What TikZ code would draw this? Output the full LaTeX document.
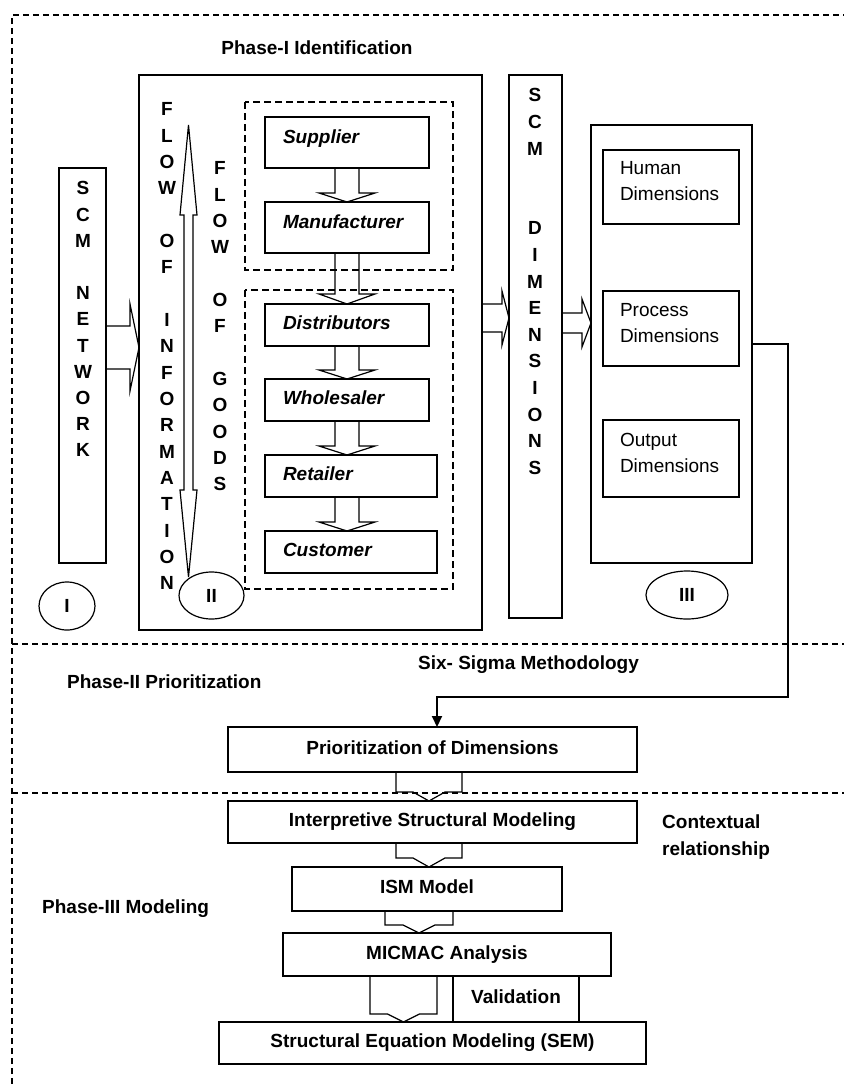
\documentclass[tikz,border=0pt]{standalone}
\usepackage{fontspec}
\setmainfont{Liberation Sans}
\usepackage{tikz}
\usetikzlibrary{calc,positioning,shapes.geometric,arrows.meta}

\newcommand{\figfont}{\fontsize{19}{26.4}\selectfont}

% block arrow down: from #1.south to #2.north at x=#3
% #4 half shaft, #5 half head, #6 head length
\newcommand{\BlockDown}[6]{%
  \draw [block] ($(#1.south -| #3,0) + (-#4,0)$)
    -- ($(#2.north -| #3,0) + (-#4,-#6)$)
    -- ($(#2.north -| #3,0) + (-#5,-#6)$)
    -- (#2.north -| #3,0)
    -- ($(#2.north -| #3,0) + (#5,-#6)$)
    -- ($(#2.north -| #3,0) + (#4,-#6)$)
    -- ($(#1.south -| #3,0) + (#4,0)$);}

% block arrow right: from #1.east to #2.west at y=#3
\newcommand{\BlockRight}[6]{%
  \draw [block] ($(#1.east |- 0,#3) + (0,-#4)$)
    -- ($(#2.west |- 0,#3) + (-#6,-#4)$)
    -- ($(#2.west |- 0,#3) + (-#6,-#5)$)
    -- (#2.west |- 0,#3)
    -- ($(#2.west |- 0,#3) + (-#6,#5)$)
    -- ($(#2.west |- 0,#3) + (-#6,#4)$)
    -- ($(#1.east |- 0,#3) + (0,#4)$);}

\begin{document}
\begin{tikzpicture}
  [x=1pt, y=-1pt,
   box/.style={draw, line width=1.3pt, inner sep=0pt, outer sep=0pt},
   member/.style={box, font=\figfont\bfseries\itshape, align=left, inner xsep=18pt,
                  text height=14pt, text depth=5pt, minimum height=42pt},
   dimension/.style={box, font=\figfont, align=left, inner xsep=17pt, text width=102pt,
                     text depth=38pt},
   stagebox/.style={box, font=\figfont\bfseries, text height=14pt, text depth=5pt},
   letter/.style={font=\figfont\bfseries, inner sep=0pt, text height=13.6pt, text depth=0pt},
   heading/.style={letter, anchor=west},
   tag/.style={draw, ellipse, line width=1.2pt, fill=white, inner sep=0pt,
               font=\figfont\bfseries, text height=13.6pt, text depth=0pt},
   group/.style={draw, line width=1.1pt, dash pattern=on 7pt off 4pt},
   phase line/.style={line width=1.1pt, dash pattern=on 6pt off 4pt},
   block/.style={line width=1.2pt},
   link/.style={line width=2pt, -{Triangle[length=11pt, width=10pt]}}]

  \useasboundingbox (0,0) rectangle (844,1084);

  % phase borders
  \draw [phase line] (12,1084) -- (12,15) -- (844,15);
  \draw [phase line] (12,644) -- (844,644);
  \draw [phase line] (12,793) -- (844,793);

  % Phase I
  \node [heading, anchor=center] (phase1) at (317,48) {Phase-I Identification};

  \node [box, minimum width=47pt,  minimum height=395pt] (net)    at (82.5,365.5) {};
  \node [box, minimum width=343pt, minimum height=555pt] (ident)  at (310.5,352.5) {};
  \node [box, minimum width=53pt,  minimum height=543pt] (dims)   at (535.5,346.5) {};
  \node [box, minimum width=161pt, minimum height=438pt] (dimset) at (671.5,344) {};

  \draw [group] (245,102) rectangle (453,270);
  \draw [group] (245,290) rectangle (453,589);

  \node [member, text width=128pt, minimum height=51pt, text depth=13pt] (sup) at (347,142.5) {Supplier};
  \node [member, text width=128pt, minimum height=51pt, text depth=13pt] (man) at (347,227.5) {Manufacturer};
  \node [member, text width=128pt] (dist)  at (347,325) {Distributors};
  \node [member, text width=128pt] (whole) at (347,400) {Wholesaler};
  \node [member, text width=136pt] (ret)   at (351,476) {Retailer};
  \node [member, text width=136pt] (cust)  at (351,552) {Customer};

  \node [dimension, minimum height=74pt] (human)   at (671,187)   {Human\\Dimensions};
  \node [dimension, minimum height=75pt] (process) at (671,328.5) {Process\\Dimensions};
  \node [dimension, minimum height=77pt] (output)  at (671,458.5) {Output\\Dimensions};

  \foreach \ch [count=\i from 0] in {S,C,M,{},N,E,T,W,O,R,K}
    \node [letter] (net-\i) at (83,{188+26.2*\i}) {\ch};
  \foreach \ch [count=\i from 0] in {F,L,O,W,{},O,F,{},I,N,F,O,R,M,A,T,I,O,N}
    \node [letter] (info-\i) at (167,{109+26.33*\i}) {\ch};
  \foreach \ch [count=\i from 0] in {F,L,O,W,{},O,F,{},G,O,O,D,S}
    \node [letter] (goods-\i) at (220,{168+26.33*\i}) {\ch};
  \foreach \ch [count=\i from 0] in {S,C,M,{},{},D,I,M,E,N,S,I,O,N,S}
    \node [letter] (dims-\i) at (535,{95+26.6*\i}) {\ch};

  \BlockDown{sup}{man}{347}{12}{28}{9}
  \BlockDown{man}{dist}{347}{12}{28}{10}
  \BlockDown{dist}{whole}{347}{12}{28}{9}
  \BlockDown{whole}{ret}{347}{12}{28}{9}
  \BlockDown{ret}{cust}{347}{12}{28}{9}

  \BlockRight{net}{ident}{347.5}{21.5}{43.5}{9}
  \BlockRight{ident}{dims}{318}{14}{27}{7}
  \BlockRight{dims}{dimset}{323}{10}{24}{9}

  % information flows both ways
  \draw [block] (184,215) -- (180,215) -- (188.5,125) -- (197,215) -- (193,215)
    -- (193,490) -- (197,490) -- (188.5,577) -- (180,490) -- (184,490) -- cycle;

  \node [tag, minimum width=56pt, minimum height=48pt] (tag1) at (67,606)      {I};
  \node [tag, minimum width=65pt, minimum height=47pt] (tag2) at (211.5,595.5) {II};
  \node [tag, minimum width=82pt, minimum height=48pt] (tag3) at (687,595)     {III};

  % Phase II
  \node [heading] (phase2) at (67,682)  {Phase-II Prioritization};
  \node [heading] (sigma)  at (418,663) {Six- Sigma Methodology};
  \node [stagebox, minimum width=409pt, minimum height=45pt] (prio) at (432.5,749.5) {Prioritization of Dimensions};

  \draw [link] (dimset.east |- 0,344) -- (788,344) -- (788,697) -| (prio.north -| 437,0);

  % Phase III
  \node [heading] (phase3) at (42,907) {Phase-III Modeling};
  \node [font=\figfont\bfseries, inner sep=0pt, text height=13.6pt, anchor=north west,
         align=left, text width=130pt] (context) at (662,815) {Contextual\\relationship};

  \node [stagebox, minimum width=409pt, minimum height=42pt] (interp) at (432.5,822)  {Interpretive Structural Modeling};
  \node [stagebox, minimum width=270pt, minimum height=44pt] (ism)    at (427,889)    {ISM Model};
  \node [stagebox, minimum width=328pt, minimum height=43pt] (micmac) at (447,954.5)  {MICMAC Analysis};
  \node [stagebox, minimum width=427pt, minimum height=42pt] (sem)    at (432.5,1043) {Structural Equation Modeling (SEM)};
  \node [stagebox, minimum width=126pt, minimum height=46pt] (valid)  at (516,999)    {Validation};

  \BlockDown{prio}{interp}{429}{33}{16}{9}
  \BlockDown{interp}{ism}{429}{33}{16}{9}
  \BlockDown{ism}{micmac}{419}{34}{16}{8}
  \BlockDown{micmac}{sem}{403.5}{33.5}{16}{8}
\end{tikzpicture}
\end{document}
